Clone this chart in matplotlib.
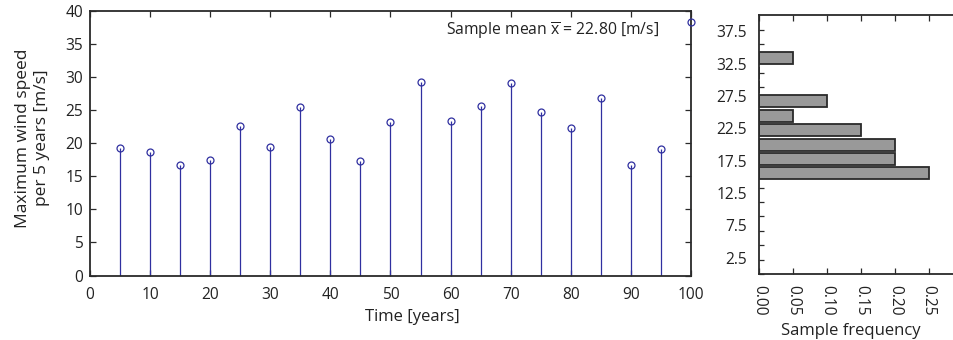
import matplotlib
matplotlib.use("Agg")
import matplotlib.pyplot as plt
import numpy as np

plt.rcParams['font.family'] = ['Open Sans', 'DejaVu Sans']
plt.rcParams['mathtext.fontset'] = 'custom'
plt.rcParams['mathtext.rm'] = 'Open Sans'

# ---- data ----
years = [5, 10, 15, 20, 25, 30, 35, 40, 45, 50, 55, 60, 65, 70, 75, 80, 85, 90, 95, 100]
speeds = [19.24, 18.63, 16.66, 17.42, 22.56, 19.39, 25.53, 20.59, 17.36, 23.26,
          29.31, 23.36, 25.68, 29.06, 24.77, 22.31, 26.80, 16.71, 19.08, 38.38]
bin_centers = [15.55, 17.77, 19.99, 22.21, 24.43, 26.65, 28.87, 31.09, 33.31]
bin_freq = [0.25, 0.20, 0.20, 0.15, 0.05, 0.10, 0.0, 0.0, 0.05]
hist_ylabels = [2.5, 7.5, 12.5, 17.5, 22.5, 27.5, 32.5, 37.5]
freq_ticks = [0.00, 0.05, 0.10, 0.15, 0.20, 0.25]
mean_text = r'Sample mean $\overline{\mathregular{x}}$ = 22.80 [m/s]'

W, H = 954, 340
fig = plt.figure(figsize=(W / 100, H / 100), dpi=100)

spine_c = '#2a2a2a'
stem_c = '#3030a0'
fs = 11.2

# ---- stem plot ----
ax = fig.add_axes([90 / W, (H - 275.5) / H, 601 / W, 264.5 / H])
ax.vlines(years, 0, speeds, colors=stem_c, linewidth=0.9, zorder=2)
ax.plot(years, speeds, 'o', markerfacecolor='none', markeredgecolor=stem_c,
        markersize=5, markeredgewidth=0.9, zorder=3, clip_on=False)
ax.set_xlim(0, 100)
ax.set_ylim(0, 40)
ax.set_xticks(np.arange(0, 101, 10))
ax.set_yticks(np.arange(0, 41, 5))
ax.tick_params(direction='in', length=4, width=0.9, color=spine_c,
               top=True, right=True, labelsize=fs, labelcolor='#222222')
ax.tick_params(axis='x', pad=8)
ax.tick_params(axis='y', pad=5)
for s in ax.spines.values():
    s.set_color(spine_c)
    s.set_linewidth(1.3)
ax.set_ylabel('Maximum wind speed\nper 5 years [m/s]', fontsize=12.5,
              color='#222222', linespacing=1.3)
ax.yaxis.set_label_coords(-0.066, 0.52)
fig.text(412 / W, 1 - 317 / H, 'Time [years]', ha='center', va='center',
         fontsize=12, color='#222222')
ax.text(0.593, 0.925, mean_text, transform=ax.transAxes, ha='left',
        va='center', fontsize=11.3, color='#222222')

# ---- histogram ----
ax2 = fig.add_axes([759.3 / W, (H - 274) / H, 203.3 / W, 259 / H])
ax2.barh(bin_centers, bin_freq, height=1.85, color='#999999',
         edgecolor='#2a2a2a', linewidth=1.3, zorder=2)
ax2.set_xlim(0, 0.30)
ax2.set_ylim(0, 40)
ax2.set_xticks(freq_ticks)
ax2.set_xticklabels(['%.2f' % v for v in freq_ticks], rotation=-90)
ax2.set_yticks(hist_ylabels)
ax2.set_yticks([bin_centers[0] + (bin_centers[1] - bin_centers[0]) * k
                for k in range(-7, 11)], minor=True)
ax2.tick_params(axis='y', which='major', length=0, pad=9, labelsize=fs,
                labelcolor='#222222')
ax2.tick_params(axis='y', which='minor', direction='in', length=3.5,
                width=0.9, color=spine_c)
ax2.tick_params(axis='x', direction='in', length=4, width=0.9, color=spine_c,
                top=True, pad=8, labelsize=fs, labelcolor='#222222')
for s in ax2.spines.values():
    s.set_color(spine_c)
    s.set_linewidth(1.3)
fig.text(851 / W, 1 - 331 / H, 'Sample frequency', ha='center', va='center',
         fontsize=12, color='#222222')

fig.savefig('out.png', dpi=100)
